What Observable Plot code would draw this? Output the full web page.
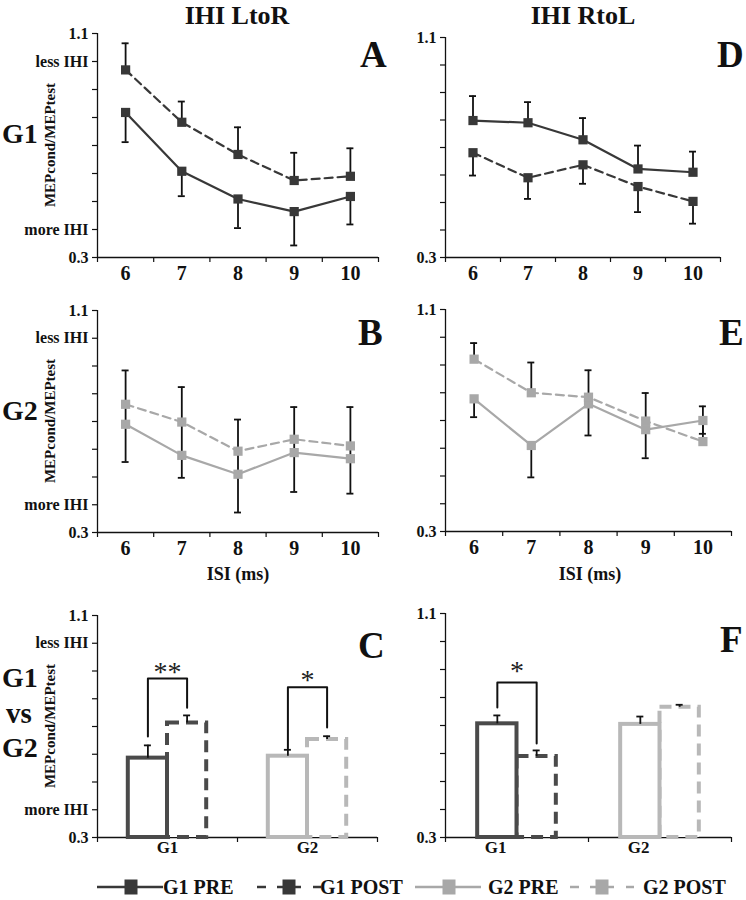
<!DOCTYPE html>
<html><head><meta charset="utf-8">
<script src="https://cdn.jsdelivr.net/npm/d3@7"></script>
<script src="https://cdn.jsdelivr.net/npm/@observablehq/plot@0.6"></script>
<style>
html,body{margin:0;padding:0;background:#fff;}
#wrap{position:relative;width:746px;height:900px;overflow:hidden;background:#fff;}
</style></head><body><div id="wrap"></div>
<script>
// ---------- data ----------
const isi = [6, 7, 8, 9, 10];
const yTickValues = [0.3, 0.4, 0.5, 0.6, 0.7, 0.8, 0.9, 1.0, 1.1];
const xBoundaries = [5.5, 6.5, 7.5, 8.5, 9.5, 10.5];

// Panel A: IHI LtoR, G1
const aPre = [0.818, 0.608, 0.509, 0.464, 0.518];
const aPreSE = [0.106, 0.089, 0.104, 0.121, 0.100];
const aPost = [0.970, 0.783, 0.668, 0.575, 0.590];
const aPostSE = [0.095, 0.074, 0.097, 0.099, 0.100];
// Panel D: IHI RtoL, G1
const dPre = [0.798, 0.790, 0.728, 0.622, 0.610];
const dPreSE = [0.089, 0.075, 0.079, 0.085, 0.075];
const dPost = [0.681, 0.590, 0.637, 0.558, 0.504];
const dPostSE = [0.083, 0.077, 0.069, 0.093, 0.081];
// Panel B: IHI LtoR, G2
const bPre = [0.690, 0.578, 0.510, 0.588, 0.566];
const bPreSE = [0.136, 0.081, 0.138, 0.142, 0.126];
const bPost = [0.762, 0.698, 0.593, 0.636, 0.612];
const bPostSE = [0.122, 0.126, 0.114, 0.116, 0.140];
// Panel E: IHI RtoL, G2
const ePre = [0.778, 0.610, 0.760, 0.667, 0.700];
const ePreSE = [0.066, 0.115, 0.114, 0.103, 0.048];
const ePost = [0.921, 0.800, 0.784, 0.698, 0.624];
const ePostSE = [0.058, 0.109, 0.097, 0.101, 0.127];

// Panels C & F: G1 vs G2 bars
const groups = ["G1", "G2"];
const cPre = [0.586, 0.593];
const cPreSE = [0.046, 0.023];
const cPost = [0.713, 0.653];
const cPostSE = [0.027, 0.012];
const fPre = [0.706, 0.704];
const fPreSE = [0.030, 0.028];
const fPost = [0.589, 0.765];
const fPostSE = [0.022, 0.009];

// significance brackets (values on the y scale)
const cBrackets = [
  {group: "G1", leftEnd: 0.664, top: 0.873, rightEnd: 0.768, label: "**", labelY: 0.913},
  {group: "G2", leftEnd: 0.621, top: 0.841, rightEnd: 0.696, label: "*", labelY: 0.884}
];
const fBrackets = [
  {group: "G1", leftEnd: 0.764, top: 0.854, rightEnd: 0.636, label: "*", labelY: 0.911}
];

const legendLabels = ["G1 PRE", "G1 POST", "G2 PRE", "G2 POST"];

// ---------- styles ----------
const DARK = "#383838", LIGHT = "#a8a8a8";
const BAR_DARK = "#4a4a4a", BAR_LIGHT = "#b8b8b8";
const FONT = "Liberation Serif, Times New Roman, serif";
const wrap = document.getElementById("wrap");

const fmtLeft = d => { const k = Math.round(d * 10); return k === 11 ? "1.1" : k === 10 ? "less IHI" : k === 4 ? "more IHI" : k === 3 ? "0.3" : ""; };
const fmtRight = d => { const k = Math.round(d * 10); return k === 11 ? "1.1" : k === 3 ? "0.3" : ""; };

function place(svg, left, top) {
  svg.style.position = "absolute";
  svg.style.left = left + "px";
  svg.style.top = top + "px";
  svg.style.background = "transparent";
  svg.style.overflow = "visible";
  svg.style.maxWidth = "none";
  wrap.appendChild(svg);
}

function linePanel(o) {
  const rows = (vals, se, dir) => isi.map((x, i) => ({x, v: vals[i], e: vals[i] + dir * se[i]}));
  const pre = rows(o.pre, o.preSE, o.preDir);
  const post = rows(o.post, o.postSE, o.postDir);
  const all = pre.concat(post);
  const cap = 3.5 / ((o.width - o.ml - o.mr) / 5);
  const marks = [
    Plot.axisY({ticks: yTickValues, tickSize: 5, tickPadding: 4, tickFormat: o.yFmt, label: null, fontSize: 16, strokeWidth: 1.2}),
    Plot.axisX({ticks: xBoundaries, tickSize: 5, tickFormat: () => "", label: null, strokeWidth: 1.2}),
    Plot.axisX({ticks: isi, tickSize: 0, tickPadding: 8, tickFormat: d => String(d), label: null, fontSize: 20}),
    Plot.ruleY([0.3], {stroke: "#111", strokeWidth: 1.3}),
    Plot.ruleX([5.5], {stroke: "#111", strokeWidth: 1.3}),
    Plot.ruleX(all, {x: "x", y1: "v", y2: "e", stroke: "#111", strokeWidth: 1.8}),
    Plot.ruleY(all, {y: "e", x1: d => d.x - cap, x2: d => d.x + cap, stroke: "#111", strokeWidth: 1.8})
  ];
  if (o.connect) {
    marks.push(Plot.ruleX(isi.map((x, i) => ({x, a: o.pre[i], b: o.post[i]})), {x: "x", y1: "a", y2: "b", stroke: "#111", strokeWidth: 1.8}));
  }
  marks.push(
    Plot.line(pre, {x: "x", y: "v", stroke: o.color, strokeWidth: 2.2}),
    Plot.line(post, {x: "x", y: "v", stroke: o.color, strokeWidth: 2.2, strokeDasharray: "8,5"}),
    Plot.dot(all, {x: "x", y: "v", symbol: "square", r: 5.2, fill: o.color})
  );
  const svg = Plot.plot({
    width: o.width, height: o.height,
    marginLeft: o.ml, marginRight: o.mr, marginTop: o.mt, marginBottom: o.mb,
    x: {domain: [5.5, 10.5]},
    y: {domain: [0.3, 1.1]},
    style: {fontFamily: FONT, fontWeight: "bold", fontSize: "15px", color: "#111"},
    marks
  });
  place(svg, o.left, o.top);
}

function barPanel(o) {
  const half = o.barW;
  const rows = [];
  groups.forEach((g, i) => {
    const c = i + 0.5;
    rows.push({g, x1: c, x2: c + half, xm: c + half / 2, v: o.post[i], se: o.postSE[i], color: o.colors[i], dash: true});
    rows.push({g, x1: c - half, x2: c, xm: c - half / 2, v: o.pre[i], se: o.preSE[i], color: o.colors[i], dash: false});
  });
  const cap = 3.5 / ((o.width - o.ml - o.mr) / 2);
  const marks = [
    Plot.axisY({ticks: yTickValues, tickSize: 5, tickPadding: 4, tickFormat: o.yFmt, label: null, fontSize: 16, strokeWidth: 1.2}),
    Plot.axisX({ticks: [0, 1, 2], tickSize: 5, tickFormat: () => "", label: null, strokeWidth: 1.2}),
    Plot.axisX({ticks: groups.map((g, i) => i + 0.5 + o.labelShift), tickSize: 0, tickPadding: 3, tickFormat: d => groups[Math.floor(d)], label: null, fontSize: 17}),
    Plot.ruleY([0.3], {stroke: "#111", strokeWidth: 1.3}),
    Plot.ruleX([0], {stroke: "#111", strokeWidth: 1.3})
  ];
  rows.forEach(r => {
    marks.push(Plot.rect([r], {x1: "x1", x2: "x2", y1: () => 0.3, y2: "v", fill: "white", stroke: r.color, strokeWidth: 4, strokeDasharray: r.dash ? "12,7" : null}));
  });
  marks.push(
    Plot.ruleX(rows, {x: "xm", y1: "v", y2: d => d.v + d.se, stroke: "#111", strokeWidth: 1.8}),
    Plot.ruleY(rows, {y: d => d.v + d.se, x1: d => d.xm - cap, x2: d => d.xm + cap, stroke: "#111", strokeWidth: 1.8})
  );
  o.brackets.forEach(b => {
    const c = groups.indexOf(b.group) + 0.5;
    const pl = c - half / 2, pr = c + half / 2;
    marks.push(Plot.line([[pl, b.leftEnd], [pl, b.top], [pr, b.top], [pr, b.rightEnd]], {stroke: "#111", strokeWidth: 2}));
  });
  marks.push(Plot.text(o.brackets, {x: b => groups.indexOf(b.group) + 0.5, y: "labelY", text: "label", fontSize: 28, fontWeight: "normal", lineAnchor: "middle", dy: 5, fill: "#222"}));
  const svg = Plot.plot({
    width: o.width, height: o.height,
    marginLeft: o.ml, marginRight: o.mr, marginTop: o.mt, marginBottom: o.mb,
    x: {domain: [0, 2]},
    y: {domain: [0.3, 1.1]},
    style: {fontFamily: FONT, fontWeight: "bold", fontSize: "15px", color: "#111"},
    marks
  });
  place(svg, o.left, o.top);
}

// ---------- panels ----------
linePanel({left: 0, top: 0, width: 385, height: 290, ml: 97, mr: 7, mt: 33, mb: 33,
  pre: aPre, preSE: aPreSE, preDir: -1, post: aPost, postSE: aPostSE, postDir: 1, color: DARK, yFmt: fmtLeft});
linePanel({left: 380, top: 0, width: 345, height: 290, ml: 65, mr: 5, mt: 37, mb: 33,
  pre: dPre, preSE: dPreSE, preDir: 1, post: dPost, postSE: dPostSE, postDir: -1, color: DARK, yFmt: fmtRight});
linePanel({left: 0, top: 280, width: 385, height: 290, ml: 97, mr: 7, mt: 30, mb: 38,
  pre: bPre, preSE: bPreSE, preDir: -1, post: bPost, postSE: bPostSE, postDir: 1, color: LIGHT, yFmt: fmtLeft, connect: true});
linePanel({left: 380, top: 280, width: 356, height: 290, ml: 65, mr: 5, mt: 29, mb: 39,
  pre: ePre, preSE: ePreSE, preDir: -1, post: ePost, postSE: ePostSE, postDir: 1, color: LIGHT, yFmt: fmtRight});
barPanel({left: 0, top: 580, width: 385, height: 280, ml: 97, mr: 8, mt: 35, mb: 23,
  pre: cPre, preSE: cPreSE, post: cPost, postSE: cPostSE, colors: [BAR_DARK, BAR_LIGHT], barW: 0.28,
  brackets: cBrackets, yFmt: fmtLeft, labelShift: 0});
barPanel({left: 380, top: 580, width: 356, height: 280, ml: 65, mr: 5, mt: 33, mb: 23,
  pre: fPre, preSE: fPreSE, post: fPost, postSE: fPostSE, colors: [BAR_DARK, BAR_LIGHT], barW: 0.275,
  brackets: fBrackets, yFmt: fmtRight, labelShift: -0.15});

// ---------- annotations & legend ----------
const ov = d3.select(wrap).append("svg")
  .attr("width", 746).attr("height", 900)
  .style("position", "absolute").style("left", "0px").style("top", "0px")
  .style("font-family", FONT).style("font-weight", "bold").style("pointer-events", "none");

const texts = [
  {t: "IHI LtoR", x: 237, y: 24, s: 26, a: "middle"},
  {t: "IHI RtoL", x: 583, y: 24, s: 26, a: "middle"},
  {t: "A", x: 360, y: 67, s: 37, a: "start"},
  {t: "D", x: 717, y: 67, s: 37, a: "start"},
  {t: "B", x: 358, y: 345, s: 37, a: "start"},
  {t: "E", x: 719, y: 345, s: 37, a: "start"},
  {t: "C", x: 358, y: 658, s: 37, a: "start"},
  {t: "F", x: 720, y: 652, s: 37, a: "start"},
  {t: "G1", x: 2, y: 143, s: 28, a: "start"},
  {t: "G2", x: 2, y: 420, s: 28, a: "start"},
  {t: "G1", x: 2, y: 687, s: 28, a: "start"},
  {t: "vs", x: 19, y: 723, s: 29, a: "middle"},
  {t: "G2", x: 2, y: 757, s: 28, a: "start"},
  {t: "ISI (ms)", x: 238, y: 580, s: 18, a: "middle"},
  {t: "ISI (ms)", x: 590, y: 580, s: 18, a: "middle"}
];
texts.forEach(d => ov.append("text").attr("x", d.x).attr("y", d.y).attr("font-size", d.s)
  .attr("text-anchor", d.a).attr("fill", "#111").text(d.t));

[145, 421, 726].forEach(cy => ov.append("text")
  .attr("transform", `translate(55,${cy}) rotate(-90)`).attr("text-anchor", "middle")
  .attr("font-size", 15).attr("fill", "#111").text("MEPcond/MEPtest"));

// legend
const ly = 887;
const legendItems = [
  {sx: 97, tx: 163, color: DARK, dashed: false},
  {sx: 257, tx: 320, color: DARK, dashed: true},
  {sx: 415, tx: 488, color: LIGHT, dashed: false},
  {sx: 570, tx: 643, color: LIGHT, dashed: true}
];
legendItems.forEach((it, i) => {
  const g = ov.append("g");
  let sq;
  if (!it.dashed) {
    g.append("line").attr("x1", it.sx).attr("x2", it.sx + 66).attr("y1", ly).attr("y2", ly)
      .attr("stroke", it.color).attr("stroke-width", 2.5);
    sq = it.sx + 34;
  } else {
    [[0, 9], [20, 44], [56, 64]].forEach(([a, b]) => g.append("line")
      .attr("x1", it.sx + a).attr("x2", it.sx + b).attr("y1", ly).attr("y2", ly)
      .attr("stroke", it.color).attr("stroke-width", 2.5));
    sq = it.sx + 32;
  }
  g.append("rect").attr("x", sq - 6.5).attr("y", ly - 7.5).attr("width", 13).attr("height", 15).attr("fill", it.color);
  g.append("text").attr("x", it.tx).attr("y", 894).attr("font-size", 20).attr("fill", "#111").text(legendLabels[i]);
});
</script></body></html>
